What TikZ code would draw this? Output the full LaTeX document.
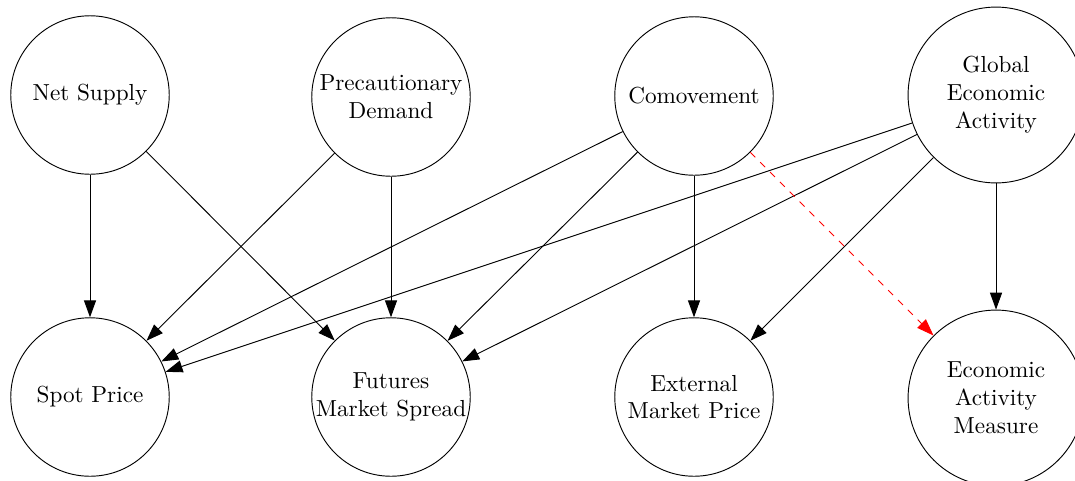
\documentclass[tikz,border=0pt]{standalone}
\usetikzlibrary{arrows.meta}
\begin{document}
\begin{tikzpicture}[x=0.431pt,y=-0.431pt,
  var/.style={circle,draw,inner sep=0pt,align=center,minimum size=68.3pt},
  bigvar/.style={var,minimum size=75.8pt},
  link/.style={-{Triangle[length=7.3pt,width=5.2pt]}},
  hint/.style={link,red,dashed}]
\useasboundingbox (0,0) rectangle (1075,480);
% causes
\node[var] (ns) at (90,95) {Net Supply};
\node[var] (pd) at (391,97) {Precautionary\\Demand};
\node[var] (cm) at (694,96) {Comovement};
\node[bigvar] (ga) at (996,95) {Global\\Economic\\Activity};
% observed series
\node[var] (sp) at (90,397) {Spot Price};
\node[var] (fs) at (391,397) {Futures\\Market Spread};
\node[var] (ep) at (694,397) {External\\Market Price};
\node[bigvar] (em) at (996,398) {Economic\\Activity\\Measure};
% links
\draw[link] (ns) -- (sp);
\draw[link] (ns) -- (fs);
\draw[link] (pd) -- (sp);
\draw[link] (pd) -- (fs);
\draw[link] (cm) -- (sp);
\draw[link] (cm) -- (fs);
\draw[link] (cm) -- (ep);
\draw[link] (ga) -- (sp);
\draw[link] (ga) -- (fs);
\draw[link] (ga) -- (ep);
\draw[link] (ga) -- (em);
\draw[hint] (cm) -- (em);
\end{tikzpicture}
\end{document}
